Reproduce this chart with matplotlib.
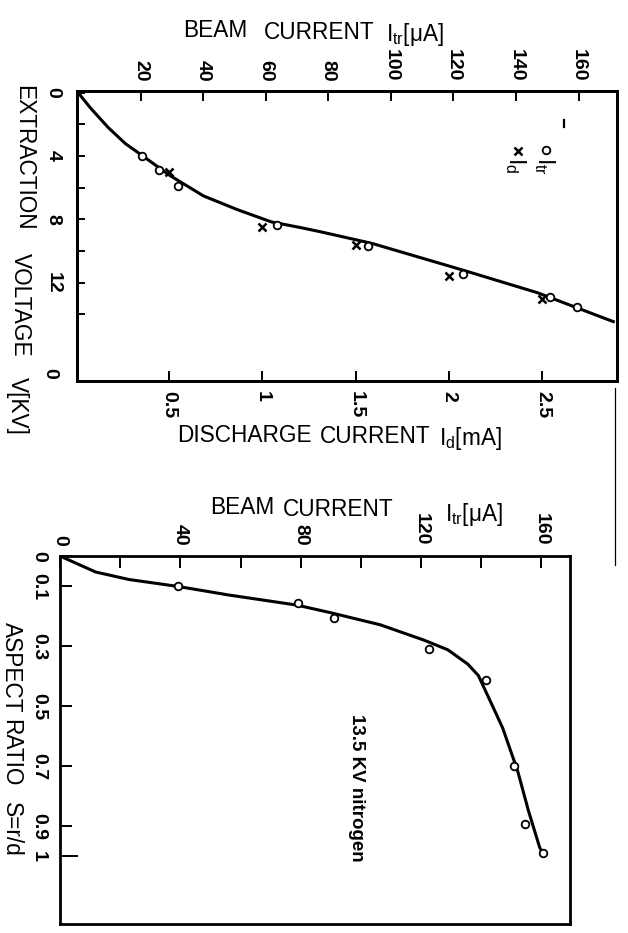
import matplotlib
matplotlib.use('Agg')
import matplotlib.pyplot as plt
from matplotlib import font_manager
from matplotlib.lines import Line2D

W, H = 628, 933   # page size in pixels

# upper graph: extraction voltage vs beam current (o) and discharge current (x)
v_ticks = [0, 2, 4, 6, 8, 10, 12, 14]
v_labels = ['0', '', '4', '', '8', '', '12', '']
itr_ticks = [20, 40, 60, 80, 100, 120, 140, 160]
id_ticks = [0.5, 1, 1.5, 2, 2.5]
id_labels = ['0.5', '1', '1.5', '2', '2.5']

fit_itr = [0, 4.0, 9.6, 15.1, 20.3, 29.3, 40.1, 51.0, 61.8, 71.4, 77.9, 94.0, 123.1, 146.8, 171.1]
fit_v = [0, 0.98, 2.2, 3.22, 3.95, 5.23, 6.53, 7.40, 8.17, 8.54, 8.81, 9.53, 11.22, 12.64, 14.47]

itr_meas = [20.3, 26.0, 32.0, 63.7, 92.7, 122.9, 150.9, 159.5]
itr_meas_v = [4.0, 4.9, 5.9, 8.36, 9.7, 11.43, 12.93, 13.56]

id_meas = [0.5, 1.0, 1.5, 2.0, 2.5]
id_meas_v = [5.0, 8.46, 9.66, 11.56, 13.05]

# lower graph: aspect ratio vs beam current, 13.5 kV nitrogen
s_ticks = [0, 0.1, 0.3, 0.5, 0.7, 0.9, 1.0]
s_labels = ['0', '0.1', '0.3', '0.5', '0.7', '0.9', '1']
itr2_ticks = [0, 20, 40, 60, 80, 100, 120, 140, 160]
itr2_labels = ['0', '', '40', '', '80', '', '120', '', '160']

fit2_itr = [0, 11.8, 22.9, 39.1, 56.3, 78.6, 89.7, 106.5, 121.0, 128.9, 135.6, 139.1, 143.7, 147.2, 152.2, 155.8, 159.5, 160.5]
fit2_s = [0, 0.053, 0.078, 0.101, 0.130, 0.163, 0.188, 0.229, 0.280, 0.312, 0.360, 0.398, 0.497, 0.573, 0.717, 0.850, 0.971, 0.99]

meas2_itr = [39.1, 79.1, 91.1, 122.8, 141.5, 150.8, 154.6, 160.5]
meas2_s = [0.099, 0.156, 0.205, 0.308, 0.412, 0.70, 0.894, 0.99]


have = {f.name for f in font_manager.fontManager.ttflist}
if 'Liberation Sans Narrow' in have:
    NUM_FONT, NUM_SIZE = 'Liberation Sans Narrow', 17
else:
    NUM_FONT, NUM_SIZE = 'Liberation Sans', 14
plt.rcParams['font.family'] = ['Liberation Sans', 'DejaVu Sans']
TXT = 16.3


def fx(x):
    return x / W


def fy(y):
    return 1 - y / H


def bold_nums(labels):
    for t in labels:
        t.set_fontfamily(NUM_FONT)
        t.set_fontweight('bold')
        t.set_fontsize(NUM_SIZE)


def frame(ax):
    for sp in ax.spines.values():
        sp.set_linewidth(2.0)


fig = plt.figure(figsize=(W / 100, H / 100), dpi=100)

# ---------------- upper graph ----------------
ax1 = fig.add_axes([fx(76.75), fy(381), 540 / W, 290 / H])
ax1b = ax1.twiny()   # discharge current scale, drawn at the bottom

ax1.plot(fit_itr, fit_v, color='k', lw=2.2)
ax1.plot(itr_meas, itr_meas_v, 'o', mfc='white', mec='k', ms=5.5, mew=1.3)
ax1.set_xlim(-0.42, 172.2)
ax1.set_ylim(18.22, -0.10)
ax1.xaxis.tick_top()
ax1.set_xticks(itr_ticks)
ax1.set_yticks(v_ticks)
ax1.set_yticklabels(v_labels)
ax1.tick_params(axis='x', top=True, bottom=False, labeltop=True, labelbottom=False,
                direction='in', length=7, width=1.4, pad=7, labelrotation=-90)
ax1.tick_params(axis='y', direction='in', length=6, width=1.4, pad=11, labelrotation=-90)
bold_nums(ax1.get_xticklabels())
bold_nums(ax1.get_yticklabels())
for t in ax1.get_yticklabels():
    t.set_va('center')
frame(ax1)

ax1b.plot(id_meas, id_meas_v, 'x', color='k', ms=5.5, mew=1.8)
ax1b.set_xlim(0.0048, 2.898)
ax1b.xaxis.tick_bottom()
ax1b.set_xticks(id_ticks)
ax1b.set_xticklabels(id_labels)
ax1b.tick_params(axis='x', top=False, bottom=True, labeltop=False, labelbottom=True,
                 direction='in', length=7.5, width=1.4, pad=7, labelrotation=-90)
bold_nums(ax1b.get_xticklabels())
frame(ax1b)

# legend, written sideways like the rest
ax1.plot([0.8697], [0.7959], 'o', mfc='white', mec='k', ms=5.5, mew=1.3, transform=ax1.transAxes)
ax1.plot([0.8173], [0.7928], 'x', color='k', ms=5.5, mew=1.8, transform=ax1.transAxes)
ax1.plot([0.9019, 0.9019], [0.8983, 0.8759], color='k', lw=1.6, transform=ax1.transAxes)
fig.text(fx(544), fy(157), r'$\mathregular{I_{tr}}$', rotation=-90, ha='center', va='top', fontsize=TXT)
fig.text(fx(515), fy(157), r'$\mathregular{I_{d}}$', rotation=-90, ha='center', va='top', fontsize=TXT)

# axis titles
fig.text(fx(183), fy(37), 'BEAM', fontsize=TXT, va='baseline')
fig.text(fx(264), fy(39), 'CURRENT', fontsize=TXT, va='baseline')
fig.text(fx(386), fy(41), r'$\mathregular{I_{tr}}$[μA]', fontsize=TXT, va='baseline')

fig.text(fx(177), fy(442), 'DISCHARGE', fontsize=TXT, va='baseline')
fig.text(fx(320), fy(443), 'CURRENT', fontsize=TXT, va='baseline')
fig.text(fx(439), fy(445), r'$\mathregular{I_{d}}$[mA]', fontsize=TXT, va='baseline')

fig.text(fx(24), fy(85), 'EXTRACTION', rotation=-90, ha='center', va='top', fontsize=TXT)
fig.text(fx(20), fy(253), 'VOLTAGE', rotation=-90, ha='center', va='top', fontsize=TXT)
fig.text(fx(17), fy(377), 'V[KV]', rotation=-90, ha='center', va='top', fontsize=TXT)
fig.text(fx(50), fy(373), '0', rotation=-90, ha='center', va='center',
         fontsize=NUM_SIZE, fontweight='bold', family=NUM_FONT)

# ---------------- lower graph ----------------
ax2 = fig.add_axes([fx(60.15), fy(924.3), 510.2 / W, 368.2 / H])
ax2.plot(fit2_itr, fit2_s, color='k', lw=2.2)
ax2.plot(meas2_itr, meas2_s, 'o', mfc='white', mec='k', ms=5.5, mew=1.3)
ax2.set_xlim(0, 169.7)
ax2.set_ylim(1.227, 0)
ax2.xaxis.tick_top()
ax2.set_xticks(itr2_ticks)
ax2.set_xticklabels(itr2_labels)
ax2.set_yticks(s_ticks)
ax2.set_yticklabels(s_labels)
ax2.tick_params(axis='x', top=True, bottom=False, labeltop=True, labelbottom=False,
                direction='in', length=8.5, width=1.4, pad=7.5, labelrotation=-90)
ax2.tick_params(axis='y', direction='in', length=8.5, width=1.4, pad=9.5, labelrotation=-90)
ax2.yaxis.get_major_ticks()[-1].tick1line.set_markersize(13)
bold_nums(ax2.get_xticklabels())
bold_nums(ax2.get_yticklabels())
for t in ax2.get_yticklabels():
    t.set_va('center')
frame(ax2)

fig.text(fx(210), fy(514), 'BEAM', fontsize=TXT, va='baseline')
fig.text(fx(283), fy(516), 'CURRENT', fontsize=TXT, va='baseline')
fig.text(fx(445), fy(521), r'$\mathregular{I_{tr}}$[μA]', fontsize=TXT, va='baseline')

fig.text(fx(11), fy(622), 'ASPECT', rotation=-90, ha='center', va='top', fontsize=TXT)
fig.text(fx(11), fy(719), 'RATIO', rotation=-90, ha='center', va='top', fontsize=TXT)
fig.text(fx(11), fy(802), 'S=r/d', rotation=-90, ha='center', va='top', fontsize=TXT)

fig.text(fx(356), fy(714), '13.5 KV nitrogen', rotation=-90, ha='center', va='top',
         fontsize=13.5, fontweight='bold')

# edge of the scanned page
fig.add_artist(Line2D([fx(615), fx(615)], [fy(388), fy(565)], color='k', lw=0.9))

fig.savefig('out.png', dpi=100, facecolor='white')
